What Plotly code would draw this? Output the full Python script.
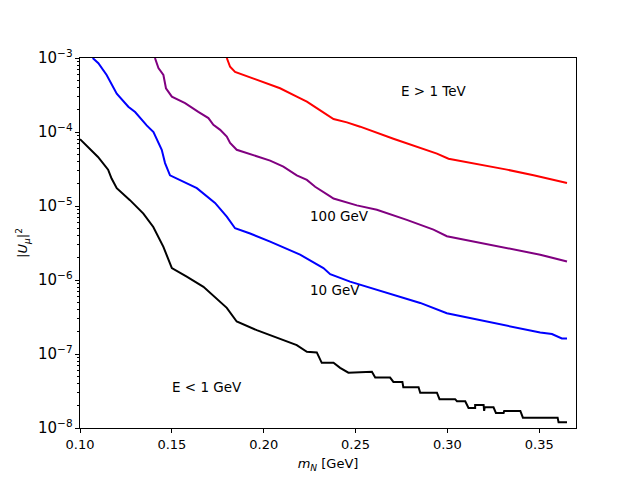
import math
import plotly.graph_objects as go

# Sensitivity curves, |U_mu|^2 vs m_N
m_low = [0.100, 0.1098, 0.1153, 0.1172, 0.120, 0.1272, 0.1345, 0.1399, 0.1454, 0.1481,
         0.150, 0.1581, 0.1672, 0.1799, 0.1853, 0.1962, 0.2089, 0.218, 0.2235, 0.2289,
         0.2316, 0.238, 0.2416, 0.2461, 0.2589, 0.2607, 0.2688, 0.2706, 0.2755, 0.276,
         0.2843, 0.2852, 0.2943, 0.2957, 0.3042, 0.3052, 0.3097, 0.3115, 0.3151, 0.3151,
         0.3197, 0.3200, 0.3203, 0.3251, 0.3264, 0.3306, 0.3309, 0.3397, 0.3411, 0.3451,
         0.3455, 0.3542, 0.3548, 0.3600, 0.3605, 0.3651]
u_low = [8.0e-5, 4.6e-5, 3.1e-5, 2.35e-5, 1.74e-5, 1.2e-5, 7.9e-6, 5.2e-6, 2.8e-6, 1.86e-6,
         1.45e-6, 1.11e-6, 8.1e-7, 4.2e-7, 2.75e-7, 2.1e-7, 1.62e-7, 1.32e-7, 1.07e-7, 1.05e-7,
         7.6e-8, 7.6e-8, 6.5e-8, 5.6e-8, 5.75e-8, 4.8e-8, 4.8e-8, 4.2e-8, 4.2e-8, 3.55e-8,
         3.55e-8, 3.0e-8, 3.0e-8, 2.45e-8, 2.45e-8, 2.3e-8, 2.3e-8, 1.86e-8, 1.86e-8, 2.05e-8,
         2.05e-8, 1.7e-8, 1.9e-8, 1.9e-8, 1.6e-8, 1.6e-8, 1.7e-8, 1.7e-8, 1.38e-8, 1.38e-8,
         1.41e-8, 1.41e-8, 1.38e-8, 1.38e-8, 1.2e-8, 1.2e-8]

m_10 = [0.1069, 0.110, 0.1145, 0.120, 0.1263, 0.130, 0.1363, 0.140, 0.1445, 0.1463,
        0.149, 0.1527, 0.1636, 0.1735, 0.1799, 0.1844, 0.1926, 0.2035, 0.2126, 0.2198,
        0.2325, 0.2362, 0.247, 0.2634, 0.2852, 0.2997, 0.3197, 0.3379, 0.3505, 0.3569,
        0.3623, 0.3651]
u_10 = [1.0e-3, 8.5e-4, 5.9e-4, 3.3e-4, 2.2e-4, 1.86e-4, 1.23e-4, 1.0e-4, 5.75e-5, 3.8e-5,
        2.6e-5, 2.35e-5, 1.74e-5, 1.1e-5, 7.2e-6, 5.0e-6, 4.25e-6, 3.3e-6, 2.6e-6, 2.2e-6,
        1.45e-6, 1.2e-6, 9.5e-7, 7.2e-7, 4.9e-7, 3.55e-7, 2.8e-7, 2.25e-7, 1.95e-7, 1.86e-7,
        1.62e-7, 1.62e-7]

m_100 = [0.1408, 0.1427, 0.1454, 0.1468, 0.150, 0.1572, 0.1644, 0.1699, 0.1726, 0.1763,
         0.1799, 0.1817, 0.1853, 0.1944, 0.2035, 0.2107, 0.218, 0.2235, 0.228, 0.2362,
         0.238, 0.2507, 0.2616, 0.2779, 0.2924, 0.2997, 0.3142, 0.3324, 0.3505, 0.3651]
u_100 = [1.0e-3, 7.3e-4, 5.9e-4, 3.9e-4, 3.0e-4, 2.45e-4, 1.87e-4, 1.54e-4, 1.25e-4, 1.07e-4,
         8.7e-5, 7.1e-5, 5.75e-5, 4.9e-5, 4.1e-5, 3.4e-5, 2.6e-5, 2.25e-5, 1.82e-5, 1.35e-5,
         1.26e-5, 1.02e-5, 8.9e-6, 6.5e-6, 4.8e-6, 3.9e-6, 3.3e-6, 2.7e-6, 2.2e-6, 1.78e-6]

m_tev = [0.1799, 0.1817, 0.1844, 0.1889, 0.1962, 0.2035, 0.2089, 0.218, 0.2235, 0.2289,
         0.238, 0.2453, 0.2525, 0.2706, 0.2834, 0.2943, 0.3006, 0.3142, 0.3324, 0.3469,
         0.3651]
u_tev = [1.0e-3, 7.6e-4, 6.5e-4, 5.9e-4, 5.05e-4, 4.3e-4, 3.9e-4, 3.0e-4, 2.57e-4, 2.1e-4,
         1.5e-4, 1.35e-4, 1.18e-4, 8.1e-5, 6.3e-5, 5.1e-5, 4.35e-5, 3.8e-5, 3.1e-5, 2.6e-5,
         2.05e-5]

# label text and anchor (lower-left) positions
labels = ['E > 1 TeV', '100 GeV', '10 GeV', 'E < 1 GeV']
label_x = [0.275, 0.225, 0.225, 0.15]
label_y = [3e-4, 6e-6, 6e-7, 3e-8]

x_ticks = [0.10, 0.15, 0.20, 0.25, 0.30, 0.35]

FONT = 'DejaVu Sans'

fig = go.Figure()
for xs, ys, col in [(m_low, u_low, 'black'), (m_10, u_10, '#0000ff'),
                    (m_100, u_100, '#800080'), (m_tev, u_tev, '#ff0000')]:
    fig.add_trace(go.Scatter(x=xs, y=ys, mode='lines',
                             line=dict(color=col, width=2), showlegend=False))

# annotations on a log axis take log10 positions
for t, lx, ly in zip(labels, label_x, label_y):
    fig.add_annotation(x=lx, y=math.log10(ly), xref='x', yref='y', text=t, showarrow=False,
                       xanchor='left', yanchor='bottom', yshift=-4, xshift=-2,
                       font=dict(family=FONT, size=13.5, color='black'))

axis_common = dict(showline=True, linecolor='black', linewidth=1, mirror=True,
                   ticks='outside', ticklen=4, tickcolor='black', showgrid=False,
                   zeroline=False, automargin=False)

# the page body keeps an 8px margin, so the figure is 8px smaller than the window
fig.update_layout(
    width=632, height=472,
    margin=dict(l=72, r=64, t=50, b=52),
    paper_bgcolor='white', plot_bgcolor='white',
    font=dict(family=FONT, size=13, color='black'),
    xaxis=dict(range=[0.10, 0.37], tickvals=x_ticks, tickformat='.2f',
               tickfont=dict(family=FONT, size=13, color='black'),
               title=dict(text='<i>m</i><sub><i>N</i></sub> [GeV]', standoff=8,
                          font=dict(family=FONT, size=13, color='black')),
               **axis_common),
    yaxis=dict(type='log', range=[-8, -3], dtick=1, exponentformat='power',
               tickfont=dict(family=FONT, size=12, color='black'),
               minor=dict(ticks='outside', ticklen=2, tickcolor='black', dtick='D1', showgrid=False),
               title=dict(text='|<i>U</i><sub><i>μ</i></sub>|<sup>2</sup>', standoff=7,
                          font=dict(family=FONT, size=13, color='black')),
               **axis_common),
)

fig.write_html('out.html')
